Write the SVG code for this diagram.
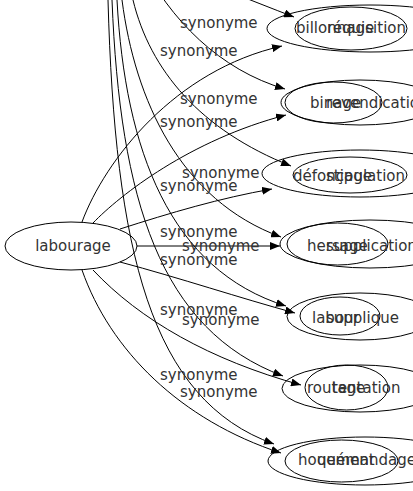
<svg xmlns="http://www.w3.org/2000/svg" width="413" height="491" viewBox="0 0 413 491">
<style>
.e{fill:none;stroke:#000;stroke-width:1}
.n{fill:#fff;fill-opacity:0;stroke:#000;stroke-width:1}
text{font-family:"DejaVu Sans",sans-serif;font-size:15px;fill:#333}
</style>
<defs>
<marker id="a" markerWidth="11" markerHeight="8" refX="10" refY="4" orient="auto" markerUnits="userSpaceOnUse">
<path d="M0,0 L10,4 L0,8 Z" fill="#000"/>
</marker>
</defs>
<rect width="413" height="491" fill="#fff"/>
<g id="edges">
<path class="e" marker-end="url(#a)" d="M150,-40 C200,-20 250,0 294,17"/>
<path class="e" marker-end="url(#a)" d="M140,-40 C170,20 220,70 285,89"/>
<path class="e" marker-end="url(#a)" d="M133,0 C150,70 200,130 291,166"/>
<path class="e" marker-end="url(#a)" d="M122,0 C135,100 180,200 281,237"/>
<path class="e" marker-end="url(#a)" d="M117,0 C125,150 170,270 286,306"/>
<path class="e" marker-end="url(#a)" d="M112,0 C120,200 160,330 283,376"/>
<path class="e" marker-end="url(#a)" d="M108,0 C115,250 150,400 274,444"/>
<path class="e" marker-end="url(#a)" d="M82,222 C105,160 175,70 282,46"/>
<path class="e" marker-end="url(#a)" d="M93,223 C120,195 190,140 286,115"/>
<path class="e" marker-end="url(#a)" d="M120,229 C170,213 220,198 272,189"/>
<path class="e" marker-end="url(#a)" d="M137,246 L280,246"/>
<path class="e" marker-end="url(#a)" d="M120,262 C180,278 240,298 295,313"/>
<path class="e" marker-end="url(#a)" d="M93,270 C140,320 210,360 301,385"/>
<path class="e" marker-end="url(#a)" d="M82,270 C110,350 180,420 281,453"/>
<text x="180" y="28">synonyme</text>
<text x="180" y="104">synonyme</text>
<text x="182" y="178">synonyme</text>
<text x="182" y="251">synonyme</text>
<text x="182" y="325">synonyme</text>
<text x="180" y="397">synonyme</text>
<text x="160" y="56">synonyme</text>
<text x="160" y="127">synonyme</text>
<text x="160" y="191">synonyme</text>
<text x="160" y="237">synonyme</text>
<text x="160" y="265">synonyme</text>
<text x="160" y="315">synonyme</text>
<text x="160" y="380">synonyme</text>
</g>
<g id="labourage"><ellipse class="n" cx="71" cy="246" rx="66" ry="24"/><text x="73" y="251" text-anchor="middle">labourage</text></g>
<g id="billonnage"><ellipse class="n" cx="351" cy="28.5" rx="56" ry="21.5"/><text x="296" y="33">billonnage</text></g>
<g id="requisition"><ellipse class="n" cx="370" cy="28.5" rx="103" ry="23.5"/><text x="327" y="33">réquisition</text></g>
<g id="binage"><ellipse class="n" cx="333.5" cy="102.5" rx="48.5" ry="20.5"/><text x="310" y="108">binage</text></g>
<g id="revendication"><ellipse class="n" cx="360" cy="102.5" rx="79" ry="22.5"/><text x="326" y="108">revendication</text></g>
<g id="defoncage"><ellipse class="n" cx="350" cy="175" rx="57" ry="18"/><text x="293" y="181">défonçage</text></g>
<g id="stipulation"><ellipse class="n" cx="360" cy="173.5" rx="98" ry="23.5"/><text x="326" y="181">stipulation</text></g>
<g id="hersage"><ellipse class="n" cx="337.5" cy="244" rx="50.5" ry="21"/><text x="307" y="251">hersage</text></g>
<g id="supplication"><ellipse class="n" cx="370" cy="244" rx="90" ry="24"/><text x="326" y="251">supplication</text></g>
<g id="labour"><ellipse class="n" cx="340" cy="316" rx="40" ry="19"/><text x="312" y="323">labour</text></g>
<g id="supplique"><ellipse class="n" cx="360" cy="316.5" rx="73" ry="23.5"/><text x="326" y="323">supplique</text></g>
<g id="routage"><ellipse class="n" cx="346.5" cy="387.5" rx="41.5" ry="22.5"/><text x="307" y="393">routage</text></g>
<g id="tentation"><ellipse class="n" cx="360" cy="388.5" rx="78" ry="23.5"/><text x="332" y="393">tentation</text></g>
<g id="houement"><ellipse class="n" cx="341.5" cy="461" rx="56.5" ry="21"/><text x="298" y="465">houement</text></g>
<g id="quemandage"><ellipse class="n" cx="365" cy="461" rx="97" ry="24"/><text x="317" y="465">quémandage</text></g>
</svg>
